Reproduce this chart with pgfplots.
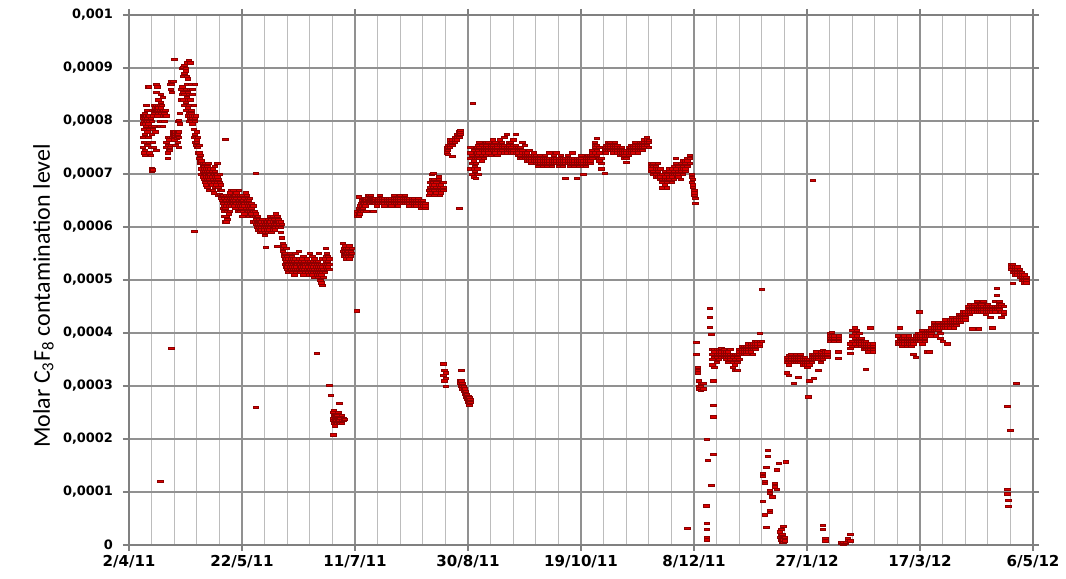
\documentclass[border=0pt]{standalone}
\usepackage{pgfplots}
\pgfplotsset{compat=1.18}
\usepackage{fontspec}
\setmainfont{DejaVu Sans}
\newfontfamily\labelfont{Carlito}

\definecolor{gridmaj}{RGB}{145,145,145}
\definecolor{gridmin}{RGB}{188,188,188}
\definecolor{axcol}{RGB}{128,128,128}
\definecolor{ptfill}{RGB}{218,0,0}
\definecolor{ptedge}{RGB}{140,0,0}

\begin{document}
\begin{tikzpicture}
% x = days since 2/4/11, y = molar fraction in units of 1e-4
\begin{axis}[
    at={(0,0)}, anchor=south west,
    scale only axis, width=678pt, height=397.5pt,
    xmin=0, xmax=400, ymin=0, ymax=10,
    clip=false,
    xtick={0,50,...,400},
    xticklabels={2/4/11,22/5/11,11/7/11,30/8/11,19/10/11,8/12/11,27/1/12,17/3/12,6/5/12},
    minor x tick num=4,
    ytick={0,1,...,10},
    yticklabels={0,{0,0001},{0,0002},{0,0003},{0,0004},{0,0005},{0,0006},{0,0007},{0,0008},{0,0009},{0,001}},
    tick align=outside,
    major tick length=4.5pt, minor tick length=0pt,
    tick style={axcol, line width=0.8pt},
    xmajorgrids, xminorgrids, ymajorgrids,
    major grid style={gridmaj, line width=0.9pt},
    minor grid style={gridmin, line width=0.8pt},
    axis line style={axcol, line width=1pt},
    xticklabel style={font=\fontsize{11.3}{13}\selectfont\bfseries},
    yticklabel style={font=\fontsize{9.7}{12}\selectfont\bfseries, xshift=-4pt},
    ylabel={Molar C\textsubscript{3}F\textsubscript{8} contamination level},
    ylabel style={at={(axis description cs:-0.0874,0.470)}, anchor=base, font=\labelfont\fontsize{18}{20}\selectfont},
]
\addplot[only marks, mark=square*, mark size=0.85pt,
    mark options={xscale=2.4, fill=ptfill, draw=ptedge, line width=0.25pt}]
coordinates {
(6,7.95)(6,8.05)(6,7.7)(6,7.5)(6,8.1)
(6.5,7.85)(6.5,8.0)(6.5,7.6)(6.5,7.4)(6.5,8.1)
(7,8.05)(7,8.1)(7,7.95)(7,7.75)(7,7.45)(7,7.35)(7,8.15)
(7.5,8.0)(7.5,7.9)(7.5,8.1)(7.5,7.6)(7.5,8.3)
(8,8.05)(8,8.0)(8,7.8)(8,7.55)(8.4,8.65)(8,8.2)
(8.5,8.1)(8.5,7.95)(8.5,7.7)(8.8,8.65)
(9,8.0)(9,8.1)(9,7.85)(9,7.4)(9,7.6)
(9.5,8.05)(9.5,7.9)(9.5,7.5)(9.5,7.35)
(10,8.0)(10,7.75)(10,7.1)(10,7.06)(10,8.2)
(10.5,8.1)(10.5,7.85)(10.5,7.08)(10.5,7.6)
(11,8.15)(11,8.2)(11,7.9)(11,8.3)(11,7.5)
(11.5,8.25)(11.5,8.2)(11.5,7.8)
(12,8.3)(12,8.2)(12,8.55)(12,8.7)(12,7.45)
(12.5,8.2)(12.5,8.25)(12.5,8.1)(12.5,8.65)
(13,8.25)(13,8.3)(13,8.2)(13,8.15)(13,8.4)
(13.7,1.2)
(13.5,8.3)(13.5,8.2)(13.5,8.0)(13.5,7.9)
(14,8.25)(14,8.15)(14,8.35)(14,8.5)
(14.5,8.3)(14.5,8.2)(14.5,8.0)
(15,8.1)(15,8.2)(15,7.9)(15,8.45)
(15.5,8.15)(15.5,8.0)
(16,8.1)(16,8.2)
(16.5,7.5)(16.5,7.6)(16.5,8.1)
(17,7.4)(17,7.55)(17,7.7)(17,7.3)
(17.5,7.45)(17.5,7.65)
(18,7.5)(18,7.7)(18,7.45)(18,8.7)
(18.6,3.72)
(18.5,7.55)(18.5,8.75)(18.5,8.6)
(19,8.7)(19,8.55)(19,7.7)
(19.5,8.75)(19.5,7.75)(19.5,7.8)
(20,9.17)(20,7.7)(20,7.75)(20,7.8)(20,7.65)
(20.5,7.75)(20.5,7.7)(20.5,7.72)(20.5,7.8)(20.5,7.55)
(21,7.75)(21,7.7)(21,7.78)(21,7.68)
(21.5,7.72)(21.5,7.76)(21.5,7.6)(21.5,8.0)
(22,7.7)(22,7.8)(22,7.5)(22,8.02)
(22.5,7.95)(22.5,8.15)
(23,8.6)(23,8.4)
(23.5,8.5)(23.5,8.65)(23.5,9.0)
(24,8.55)(24,8.4)(24,8.85)(24,9.02)
(24.5,8.5)(24.5,8.9)(24.5,9.05)(24.5,8.3)
(25,8.6)(25,8.95)(25,9.0)(25,8.35)(25,8.2)
(25.5,8.45)(25.5,8.7)(25.5,8.85)(25.5,9.1)
(26,8.4)(26,8.55)(26,8.8)(26,8.1)(26,8.25)
(26.5,8.5)(26.5,8.3)(26.5,8.0)(26.5,8.15)(26.5,9.15)
(27,8.4)(27,8.1)(27,8.05)(27,8.6)(27,9.1)
(27.5,8.2)(27.5,8.0)(27.5,8.15)(27.5,8.7)
(28,8.1)(28,8.05)(28,7.95)(28,8.5)(28,8.6)
(28.5,8.1)(28.5,7.7)(28.5,7.85)(28.5,8.3)
(28.8,5.92)
(29,8.0)(29,7.6)(29,7.75)(29,8.05)(29,8.7)
(29.5,7.7)(29.5,7.55)(29.5,8.1)
(30,7.65)(30,7.6)(30,7.5)(30,7.8)
(30.5,7.5)(30.5,7.4)(30.5,7.7)
(31,7.4)(31,7.3)(31,7.55)
(31.5,7.35)(31.5,7.2)(31.5,7.25)
(32,7.2)(32,7.1)(32,7.25)(32,7.0)
(32.5,7.15)(32.5,7.05)(32.5,6.95)(32.5,7.2)
(33,7.1)(33,7.0)(33,7.15)(33,6.9)
(33.5,7.2)(33.5,7.05)(33.5,6.85)(33.5,7.0)
(34,7.1)(34,6.95)(34,7.0)(34,6.8)
(34.5,7.05)(34.5,7.15)(34.5,6.9)(34.5,6.75)
(35,7.0)(35,7.1)(35,6.95)(35,7.2)
(35.5,6.9)(35.5,7.05)(35.5,7.0)(35.5,6.7)
(36,7.0)(36,6.85)(36,7.1)(36,6.95)
(36.5,6.95)(36.5,7.05)(36.5,6.8)
(37,7.0)(37,6.9)(37,7.1)(37,6.7)
(37.5,6.85)(37.5,7.0)(37.5,6.65)
(38,6.95)(38,7.05)(38,6.75)(38,7.15)
(38.5,7.0)(38.5,6.9)(38.5,6.8)
(39,6.95)(39,6.85)(39,7.0)(39,7.2)
(39.5,6.9)(39.5,6.75)(39.5,6.6)
(40,7.0)(40,6.85)(40,6.7)(40,6.62)
(40.5,6.8)(40.5,6.7)(40.5,6.55)
(41,6.7)(41,6.6)(41,6.5)
(41.5,6.6)(41.5,6.45)(41.5,6.35)
(42,6.55)(42,6.4)(42,6.3)(42,6.2)
(42.5,7.66)(42.5,6.5)(42.5,6.35)(42.5,6.1)
(43,6.5)(43,6.4)(43,6.6)(43,6.2)(43,6.1)
(43.5,6.45)(43.5,6.55)(43.5,6.3)(43.5,6.15)
(44,6.5)(44,6.6)(44,6.4)(44,6.25)
(44.5,6.55)(44.5,6.45)(44.5,6.65)(44.5,6.3)
(45,6.5)(45,6.6)(45,6.4)(45,6.7)
(45.5,6.5)(45.5,6.55)(45.5,6.45)
(46,6.6)(46,6.5)(46,6.45)(46,6.7)
(46.5,6.55)(46.5,6.4)(46.5,6.6)
(47,6.5)(47,6.6)(47,6.45)(47,6.35)
(47.5,6.45)(47.5,6.55)(47.5,6.65)
(48,6.5)(48,6.4)(48,6.6)(48,6.3)
(48.5,6.5)(48.5,6.45)(48.5,6.7)
(49,6.55)(49,6.4)(49,6.6)(49,6.3)
(49.5,6.5)(49.5,6.45)(49.5,6.35)
(50,6.6)(50,6.4)(50,6.5)(50,6.2)
(50.5,6.45)(50.5,6.5)(50.5,6.3)
(51,6.55)(51,6.45)(51,6.4)(51,6.25)
(51.5,6.5)(51.5,6.35)(51.5,6.65)
(52,6.45)(52,6.6)(52,6.3)(52,6.5)
(52.5,6.4)(52.5,6.55)(52.5,6.3)
(53,6.5)(53,6.45)(53,6.35)(53,6.2)
(53.5,6.4)(53.5,6.3)(53.5,6.55)
(54,6.35)(54,6.45)(54,6.25)
(54.5,6.4)(54.5,6.3)(54.5,6.2)
(55,6.3)(55,6.2)(55,6.1)(55,6.4)
(55.5,6.2)(55.5,6.1)(55.5,6.3)
(56,7.02)(56,2.6)(56,6.15)(56,6.05)(56,6.25)
(56.5,6.1)(56.5,6.0)(56.5,6.2)
(57,6.1)(57,6.05)(57,5.95)(57,6.2)
(57.5,6.0)(57.5,6.1)(57.5,6.15)
(58,6.05)(58,5.95)(58,6.1)(58,5.9)
(58.5,6.0)(58.5,6.1)(58.5,5.95)
(59,6.05)(59,5.9)(59,6.15)
(59.5,6.0)(59.5,5.95)(59.5,6.1)
(60,6.05)(60,5.9)(60,5.85)
(60.5,5.62)(60.5,6.0)(60.5,6.1)
(61,6.05)(61,5.95)(61,6.1)
(61.5,6.0)(61.5,6.15)(61.5,5.9)
(62,6.05)(62,6.1)(62,5.95)
(62.5,6.1)(62.5,6.0)(62.5,6.2)
(63,6.15)(63,6.05)(63,5.9)
(63.5,6.1)(63.5,6.0)(63.5,6.2)(63.5,5.95)
(64,6.05)(64,6.15)(64,6.0)
(64.5,6.1)(64.5,6.0)(64.5,5.95)
(65,6.05)(65,6.1)(65,6.25)
(65.5,6.2)(65.5,6.1)(65.5,5.64)
(66,6.1)(66,6.0)(66,6.15)
(66.5,6.05)(66.5,6.1)
(67,6.0)(67,6.1)(67,5.9)
(67.5,5.8)(67.5,6.05)
(68,5.7)(68,5.6)(68,5.55)
(68.5,5.5)(68.5,5.45)(68.5,5.65)
(69,5.4)(69,5.3)(69,5.5)
(69.5,5.35)(69.5,5.25)(69.5,5.4)(69.5,5.6)
(70,5.3)(70,5.2)(70,5.45)(70,5.25)
(70.5,5.3)(70.5,5.4)(70.5,5.15)
(71,5.25)(71,5.35)(71,5.2)(71,5.5)
(71.5,5.3)(71.5,5.2)(71.5,5.4)
(72,5.25)(72,5.35)(72,5.15)(72,5.45)
(72.5,5.3)(72.5,5.2)(72.5,5.4)
(73,5.25)(73,5.35)(73,5.1)
(73.5,5.3)(73.5,5.2)(73.5,5.4)(73.5,5.5)
(74,5.25)(74,5.3)(74,5.15)
(74.5,5.35)(74.5,5.2)(74.5,5.3)
(75,5.3)(75,5.4)(75,5.2)(75,5.55)
(75.5,5.25)(75.5,5.3)(75.5,5.15)
(76,5.35)(76,5.25)(76,5.2)
(76.5,5.3)(76.5,5.2)(76.5,5.4)
(77,5.25)(77,5.3)(77,5.1)(77,5.45)
(77.5,5.35)(77.5,5.2)(77.5,5.3)
(78,5.25)(78,5.15)(78,5.3)
(78.5,5.3)(78.5,5.2)(78.5,5.4)
(79,5.25)(79,5.35)(79,5.15)
(79.5,5.3)(79.5,5.2)(79.5,5.1)
(80,5.2)(80,5.3)(80,5.35)(80,5.5)
(80.5,5.25)(80.5,5.15)(80.5,5.3)
(81,5.3)(81,5.2)(81,5.1)(81,5.45)
(81.5,5.25)(81.5,5.35)(81.5,5.15)
(82,5.2)(82,5.3)(82,5.05)(82,5.4)
(82.5,5.25)(82.5,5.15)(82.5,5.35)
(83,5.2)(83,5.3)(83,5.1)(83,3.62)
(83.5,5.25)(83.5,5.15)(83.5,5.35)(83.5,5.05)
(84,5.2)(84,5.3)(84,5.1)(84,5.5)
(84.5,5.25)(84.5,5.15)(84.5,5.0)
(85,5.2)(85,5.1)(85,5.3)(85,4.95)
(85.5,5.25)(85.5,5.15)(85.5,4.9)(85.5,5.4)
(86,5.2)(86,5.3)(86,5.05)
(86.5,5.3)(86.5,5.15)(86.5,5.4)
(87,5.25)(87,5.35)(87,5.45)(87,5.6)
(87.5,5.3)(87.5,5.2)(87.5,5.5)
(88,5.35)(88,5.25)(88,5.45)
(88.5,5.3)(88.5,5.4)(88.5,5.2)
(88.5,3.02)(89.3,2.83)(90.3,2.08)
(90,2.5)(90,2.4)(90,2.35)
(90.5,2.3)(90.5,2.45)(90.5,2.55)
(91,2.4)(91,2.35)(91,2.45)(91,2.25)
(91.5,2.35)(91.5,2.42)(91.5,2.3)
(92,2.4)(92,2.3)(92,2.45)
(92.5,2.35)(92.5,2.4)(92.5,2.5)
(93,2.68)(93,2.4)(93,2.3)(93,2.35)
(93.5,2.4)(93.5,2.3)
(94,2.35)(94,2.45)(94,2.3)
(95,2.4)(95,2.35)(95.5,2.38)
(94.5,5.7)(94.5,5.55)
(95,5.6)(95,5.45)(95,5.5)
(95.5,5.55)(95.5,5.5)(95.5,5.65)
(96,5.5)(96,5.45)(96,5.6)(96,5.4)
(96.5,5.55)(96.5,5.5)
(97,5.45)(97,5.55)(97,5.6)
(97.5,5.5)(97.5,5.4)(97.5,5.65)
(98,5.55)(98,5.5)(98,5.45)
(98.5,5.5)(98.5,5.6)
(100.8,4.42)
(101,6.2)(101,6.3)(101,6.25)
(101.5,6.25)(101.5,6.35)(101.5,6.2)(101.5,6.57)
(102,6.3)(102,6.4)(102,6.25)
(102.5,6.35)(102.5,6.3)(102.5,6.45)
(103,6.4)(103,6.35)(103,6.5)
(103.5,6.45)(103.5,6.35)(103.5,6.3)
(104,6.45)(104,6.5)(104,6.4)
(104.5,6.5)(104.5,6.4)(104.5,6.55)
(105,6.5)(105,6.45)(105,6.55)(105,6.3)
(105.5,6.55)(105.5,6.5)(105.5,6.6)
(106,6.5)(106,6.45)(106,6.6)
(106.5,6.55)(106.5,6.5)(106.5,6.45)
(107,6.5)(107,6.55)(107,6.6)
(107.5,6.5)(107.5,6.45)(107.5,6.55)
(108,6.5)(108,6.55)(108,6.45)(108,6.3)
(108.5,6.5)(108.5,6.45)(108.5,6.55)
(109,6.5)(109,6.55)(109,6.45)
(109.5,6.5)(109.5,6.45)(109.5,6.4)
(110,6.5)(110,6.55)(110,6.45)
(111,6.5)(111,6.45)(111,6.55)(111,6.6)
(112,6.5)(112,6.45)(112,6.55)
(113,6.5)(113,6.45)(113,6.4)(113,6.55)
(114,6.5)(114,6.55)(114,6.45)
(115,6.45)(115,6.5)(115,6.55)
(116,6.5)(116,6.45)(116,6.4)(116,6.55)
(117,6.5)(117,6.45)(117,6.55)(117,6.6)
(118,6.45)(118,6.5)(118,6.55)
(119,6.5)(119,6.45)(119,6.55)(119,6.4)
(120,6.5)(120,6.55)(120,6.45)(120,6.6)
(121,6.5)(121,6.45)(121,6.55)
(122,6.5)(122,6.55)(122,6.45)(122,6.6)
(123,6.5)(123,6.45)(123,6.55)
(124,6.5)(124,6.45)(124,6.4)(124,6.55)
(125,6.5)(125,6.45)(125,6.55)
(126,6.5)(126,6.45)(126,6.4)(126,6.55)
(127,6.45)(127,6.5)(127,6.4)
(128,6.5)(128,6.45)(128,6.55)
(129,6.45)(129,6.5)(129,6.4)(129,6.35)
(130,6.5)(130,6.45)(130,6.4)
(131,6.45)(131,6.4)(131,6.35)
(132.5,6.7)(132.5,6.6)
(133,6.75)(133,6.85)(133,6.65)
(134,6.8)(134,6.9)(134,6.7)(134,7.0)
(134.5,7.02)(134.5,6.85)(134.5,6.75)
(135,6.8)(135,6.7)(135,6.6)(135,6.9)
(136,6.75)(136,6.85)(136,6.65)
(137,6.8)(137,6.7)(137,6.9)(137,6.95)
(137.5,6.75)(137.5,6.6)
(138,6.8)(138,6.7)(138,6.65)
(139,6.75)(139,6.85)(139,6.7)
(139,3.42)(139,3.2)(139.5,3.3)(139.5,3.1)
(140,3.15)(140,3.0)(140,3.25)
(140.5,7.4)(140.5,7.45)(140.5,7.5)
(141,7.5)(141,7.45)(141,7.55)(141,7.38)
(142,7.55)(142,7.6)(142,7.5)(142,7.65)
(143,7.6)(143,7.65)(143,7.55)(143,7.34)
(144,7.65)(144,7.7)(144,7.6)
(145,7.7)(145,7.65)(145,7.75)
(146,7.75)(146,7.7)(146,7.8)(146,6.36)
(146.5,7.8)(146.5,7.75)(146.5,7.83)
(146.5,3.1)(146.5,3.05)
(147,3.3)(147,3.0)(147,3.1)
(147.5,3.0)(147.5,2.95)(147.5,3.05)
(148,2.95)(148,2.9)(148,3.0)
(148.5,2.9)(148.5,2.85)(148.5,2.95)
(149,2.85)(149,2.8)(149,2.9)
(149.5,2.8)(149.5,2.75)(149.5,2.85)
(150,2.75)(150,2.7)(150,2.8)
(150.5,2.72)(150.5,2.64)(150.5,2.78)
(151,2.75)(151,2.7)
(152,8.34)
(151,7.3)(151,7.4)(151,7.1)(151,7.5)
(151.5,7.2)(151.5,7.0)(151.5,7.35)
(152.5,7.25)(152.5,7.1)(152.5,6.95)(152.5,7.45)
(153,7.15)(153,7.05)(153,7.3)
(153.5,7.2)(153.5,6.92)(153.5,7.4)
(154,7.3)(154,7.4)(154,7.5)(154,7.1)
(154.5,7.45)(154.5,7.35)(154.5,7.55)(154.5,7.0)
(155,7.5)(155,7.4)(155,7.3)(155,7.6)
(156,7.45)(156,7.35)(156,7.25)(156,7.55)
(157,7.5)(157,7.4)(157,7.45)(157,7.3)
(158,7.5)(158,7.45)(158,7.55)(158,7.6)(158,7.35)
(159,7.5)(159,7.4)(159,7.6)(159,7.45)
(160,7.5)(160,7.45)(160,7.55)(160,7.35)
(161,7.45)(161,7.55)(161,7.5)(161,7.65)
(162,7.45)(162,7.5)(162,7.4)(162,7.6)
(163,7.5)(163,7.45)(163,7.55)(163,7.35)
(164,7.45)(164,7.55)(164,7.65)(164,7.4)
(165,7.5)(165,7.45)(165,7.6)(165,7.55)
(166,7.5)(166,7.4)(166,7.55)(166,7.7)
(167,7.45)(167,7.5)(167,7.4)(167,7.75)
(168,7.5)(168,7.45)(168,7.55)(168,7.6)
(169,7.5)(169,7.45)(169,7.6)(169,7.4)
(170,7.55)(170,7.45)(170,7.4)(170,7.65)
(171,7.5)(171,7.4)(171,7.55)(171,7.75)
(172,7.45)(172,7.4)(172,7.5)(172,7.35)
(173,7.45)(173,7.35)(173,7.5)(173,7.3)
(174,7.4)(174,7.3)(174,7.45)(174,7.6)
(175,7.35)(175,7.4)(175,7.3)(175,7.55)
(176,7.35)(176,7.3)(176,7.4)(176,7.25)
(177,7.3)(177,7.35)(177,7.25)(177,7.45)
(178,7.3)(178,7.25)(178,7.35)(178,7.2)
(179,7.3)(179,7.25)(179,7.35)(179,7.4)
(180,7.25)(180,7.3)(180,7.2)(180,7.35)
(181,7.25)(181,7.3)(181,7.2)(181,7.15)
(182,7.25)(182,7.2)(182,7.3)(182,7.35)
(183,7.25)(183,7.2)(183,7.3)(183,7.15)
(184,7.25)(184,7.3)(184,7.2)(184,7.35)
(185,7.25)(185,7.2)(185,7.3)(185,7.15)
(186,7.25)(186,7.3)(186,7.2)(186,7.4)
(187,7.25)(187,7.2)(187,7.3)(187,7.15)
(188,7.3)(188,7.25)(188,7.2)(188,7.35)
(189,7.25)(189,7.3)(189,7.2)(189,7.4)
(190,7.25)(190,7.2)(190,7.3)(190,7.15)
(191,7.25)(191,7.3)(191,7.2)(191,7.35)
(192,7.2)(192,7.25)(192,7.3)(192,7.15)
(193,7.25)(193,7.2)(193,7.3)(193,6.92)
(194,7.25)(194,7.3)(194,7.2)(194,7.35)
(195,7.25)(195,7.2)(195,7.15)(195,7.3)
(196,7.25)(196,7.3)(196,7.2)(196,7.4)
(197,7.2)(197,7.25)(197,7.15)(197,7.3)
(198,7.25)(198,7.2)(198,7.3)(198,6.92)
(199,7.2)(199,7.25)(199,7.15)(199,7.3)
(200,7.25)(200,7.2)(200,7.3)(200,7.35)
(201,7.2)(201,7.25)(201,7.15)(201,7.0)
(202,7.25)(202,7.2)(202,7.3)(202,7.15)
(203,7.25)(203,7.3)(203,7.2)(203,7.35)
(204,7.3)(204,7.25)(204,7.35)(204,7.2)
(205,7.35)(205,7.4)(205,7.3)(205,7.45)
(206,7.5)(206,7.6)(206,7.4)(206,7.55)
(207,7.68)(207,7.55)(207,7.45)(207,7.35)
(208,7.4)(208,7.3)(208,7.25)(208,7.5)
(209,7.3)(209,7.2)(209,7.1)
(210.5,7.02)(210.5,7.45)(210.5,7.5)
(211,7.5)(211,7.45)(211,7.55)(211,7.4)
(212,7.5)(212,7.55)(212,7.45)(212,7.6)
(213,7.5)(213,7.55)(213,7.45)(213,7.6)
(214,7.5)(214,7.55)(214,7.45)(214,7.4)
(215,7.5)(215,7.45)(215,7.55)(215,7.6)
(216,7.5)(216,7.45)(216,7.4)(216,7.55)
(217,7.45)(217,7.4)(217,7.5)(217,7.35)
(218,7.45)(218,7.4)(218,7.35)(218,7.5)
(219,7.4)(219,7.35)(219,7.3)(219,7.45)
(220,7.4)(220,7.3)(220,7.22)(220,7.45)
(221,7.45)(221,7.4)(221,7.35)(221,7.5)
(222,7.45)(222,7.5)(222,7.4)(222,7.55)
(223,7.5)(223,7.45)(223,7.55)(223,7.4)
(224,7.5)(224,7.55)(224,7.45)(224,7.6)
(225,7.5)(225,7.45)(225,7.55)(225,7.4)
(226,7.5)(226,7.55)(226,7.45)(226,7.6)
(227,7.55)(227,7.5)(227,7.6)(227,7.45)
(228,7.55)(228,7.6)(228,7.5)(228,7.65)
(229,7.6)(229,7.55)(229,7.65)(229,7.7)
(230,7.6)(230,7.64)(230,7.5)
(231,7.2)(231,7.1)(231,7.05)(231,7.15)
(232,7.15)(232,7.05)(232,7.2)(232,7.0)
(233,7.1)(233,7.0)(233,7.15)(233,6.95)
(234,7.05)(234,7.1)(234,6.95)(234,7.2)
(235,7.0)(235,6.95)(235,7.1)(235,6.9)
(236,7.0)(236,6.9)(236,6.85)(236,6.74)
(237,6.95)(237,6.9)(237,7.05)(237,6.8)
(238,7.0)(238,6.9)(238,6.85)(238,6.74)
(239,6.95)(239,7.05)(239,6.9)(239,7.1)
(240,7.0)(240,7.1)(240,6.95)(240,6.85)
(241,7.05)(241,7.15)(241,7.0)(241,6.9)
(242,7.1)(242,7.0)(242,7.2)(242,7.3)
(243,7.05)(243,7.15)(243,7.0)(243,6.95)
(244,7.1)(244,7.2)(244,7.05)(244,6.9)
(245,7.15)(245,7.1)(245,7.0)(245,7.25)
(246,7.2)(246,7.1)(246,7.25)(246,7.05)
(247,7.25)(247,7.3)(247,7.15)(247,0.32)
(248,7.3)(248,7.35)(248,7.2)
(249,7.0)(249,6.94)(249,6.85)
(249.5,6.8)(249.5,6.75)(249.5,6.9)
(250,6.7)(250,6.65)(250,6.6)
(250.5,6.55)(250.5,6.45)
(251,3.83)(250.9,3.6)
(251.5,3.36)(251.5,3.3)(251.5,3.25)
(252,3.1)(252,3.0)(252,2.95)
(253,3.05)(253,2.92)(253,3.0)
(254,2.95)(254,3.05)
(255.3,0.74)(255.5,2.0)(255.5,0.41)(255.5,0.3)(255.5,0.15)(255.5,0.1)
(256,1.6)
(257,4.47)(257,4.3)(257,4.11)
(257.5,3.98)(257.5,1.13)
(258.5,3.1)(258.5,2.64)(258.5,2.42)(258.5,1.72)
(258,3.5)(258,3.6)(258,3.7)(258,3.4)
(259,3.65)(259,3.55)(259,3.7)(259,3.35)
(260,3.6)(260,3.7)(260,3.55)(260,3.45)
(261,3.65)(261,3.6)(261,3.7)(261,3.5)
(262,3.6)(262,3.65)(262,3.55)(262,3.72)
(263,3.6)(263,3.55)(263,3.65)(263,3.7)
(264,3.6)(264,3.65)(264,3.55)(264,3.5)
(265,3.55)(265,3.6)(265,3.65)(265,3.45)
(266,3.6)(266,3.55)(266,3.5)(266,3.7)
(267,3.55)(267,3.6)(267,3.45)(267,3.35)
(268,3.5)(268,3.6)(268,3.4)(268,3.3)
(269,3.55)(269,3.45)(269,3.3)(269,3.6)
(270,3.6)(270,3.65)(270,3.5)(270,3.7)
(271,3.65)(271,3.7)(271,3.6)(271,3.75)
(272,3.65)(272,3.7)(272,3.6)(272,3.75)
(273,3.7)(273,3.65)(273,3.75)(273,3.6)
(274,3.7)(274,3.75)(274,3.65)(274,3.8)
(275,3.7)(275,3.75)(275,3.8)(275,3.65)
(276,3.75)(276,3.7)(276,3.8)(276,3.6)
(277,3.75)(277,3.8)(277,3.7)(277,3.85)
(278,3.8)(278,3.75)(278,3.85)
(279,3.8)(279,3.85)(279,3.75)(279,4.0)
(280,4.83)(280,3.85)
(280.5,1.35)(280.5,1.3)(280.5,0.83)
(281.3,1.2)(281.3,1.17)(281.3,0.57)
(282,0.34)(282,1.47)
(282.7,1.79)(282.7,1.68)
(283.6,1.04)(283.6,0.98)(283.6,0.66)(283.6,0.62)
(284.5,0.9)(284.5,0.91)
(285.8,1.17)(285.8,1.1)
(286.5,1.06)(286.5,1.42)
(287.5,1.55)
(288,0.25)(288,0.15)
(288.5,0.2)(288.5,0.1)(288.5,0.3)
(289,0.06)(289,0.12)(289,0.2)
(289.5,0.36)(289.5,0.1)(289.5,0.05)
(290,0.15)(290,0.08)
(290.5,1.57)
(291,3.55)(291,3.45)(291,3.25)(291,3.5)
(292,3.5)(292,3.58)(292,3.2)(292,3.4)
(293,3.5)(293,3.55)(293,3.45)(293,3.6)
(294,3.55)(294,3.5)(294,3.45)(294,3.06)
(295,3.55)(295,3.5)(295,3.6)(295,3.45)
(296,3.5)(296,3.55)(296,3.45)(296,3.17)
(297,3.5)(297,3.55)(297,3.45)(297,3.6)
(298,3.5)(298,3.45)(298,3.55)(298,3.4)
(299,3.5)(299,3.45)(299,3.4)(299,3.55)
(300,3.45)(300,3.5)(300,3.4)(300,3.35)
(300.5,2.8)
(301,3.45)(301,3.4)(301,3.1)(301,3.5)
(302,3.5)(302,3.55)(302,3.45)(302,3.6)
(302.6,6.89)
(303,3.55)(303,3.5)(303,3.6)(303,3.15)
(304,3.55)(304,3.6)(304,3.5)(304,3.65)
(305,3.55)(305,3.6)(305,3.5)(305,3.3)
(306,3.6)(306,3.55)(306,3.65)(306,3.45)
(307,3.6)(307,3.55)(307,3.5)(307,3.68)
(308,3.6)(308,3.65)(308,3.55)
(309,3.6)(309,3.55)(309,3.65)
(310,3.95)(310,4.0)(310,3.9)(310,3.85)
(311,3.95)(311,4.02)(311,3.9)
(312,3.9)(312,3.85)(312,3.95)
(313.7,3.65)(313.7,3.53)
(307,0.37)(307,0.3)(308,0.13)(308,0.08)
(315,0.03)(315,0.05)(316,0.02)(316,0.04)(316,0.06)
(317,0.03)(317,0.05)(318,0.1)(318,0.13)(319,0.21)(319,0.08)
(314,3.9)(314,3.95)(314,3.85)
(319,3.72)(319,3.62)(319,3.8)
(320,3.95)(320,4.05)(320,3.85)(320,3.75)
(321,4.0)(321,4.1)(321,3.9)(321,3.8)
(322,3.95)(322,4.05)(322,3.85)(322,3.75)
(323,3.9)(323,3.85)(323,3.8)(323,4.0)
(324,3.85)(324,3.8)(324,3.9)(324,3.75)
(325,3.85)(325,3.8)(325,3.75)(325,3.7)
(326,3.8)(326,3.75)(326,3.85)(326,3.7)(326,3.32)
(327,3.8)(327,3.75)(327,3.7)(327,3.65)
(328,3.75)(328,3.8)(328,3.7)(328,4.1)
(329,3.75)(329,3.7)(329,3.8)(329,3.65)
(340,3.85)(340,3.95)(340,3.8)
(341,3.9)(341,3.85)(341,3.8)(341,4.1)
(342,3.85)(342,3.9)(342,3.8)(342,3.75)
(343,3.85)(343,3.8)(343,3.9)(343,3.95)
(344,3.8)(344,3.85)(344,3.9)(344,3.75)
(345,3.85)(345,3.9)(345,3.8)(345,3.95)
(346,3.85)(346,3.8)(346,3.9)(346,3.75)
(347,3.9)(347,3.85)(347,3.8)(347,3.6)
(348,3.9)(348,3.95)(348,3.85)(348,3.55)
(349,3.95)(349,3.9)(349,4.0)(349,3.85)
(349.6,4.4)
(350,3.9)(350,3.95)(350,4.0)(350,3.85)
(351,3.95)(351,3.9)(351,4.05)(351,3.8)
(352,3.95)(352,4.0)(352,3.9)(352,3.85)
(353,4.0)(353,3.95)(353,4.05)(353,3.65)
(354,4.0)(354,3.95)(354,4.05)(354,3.65)
(355,4.05)(355,4.1)(355,4.0)(355,3.95)
(356,4.1)(356,4.15)(356,4.05)(356,4.2)
(357,4.1)(357,4.05)(357,4.15)(357,3.95)
(358,4.1)(358,4.15)(358,4.05)(358,4.2)
(359,4.1)(359,4.15)(359,4.0)(359,3.9)
(360,4.15)(360,4.1)(360,4.2)(360,3.85)
(361,4.15)(361,4.2)(361,4.1)(361,4.25)
(362,4.15)(362,4.2)(362,4.1)(362,3.8)
(363,4.2)(363,4.15)(363,4.25)(363,4.1)
(364,4.2)(364,4.25)(364,4.15)(364,4.3)
(365,4.2)(365,4.25)(365,4.15)(365,4.1)
(366,4.25)(366,4.2)(366,4.3)(366,4.15)
(367,4.25)(367,4.3)(367,4.2)(367,4.35)
(368,4.3)(368,4.25)(368,4.35)(368,4.2)
(369,4.3)(369,4.35)(369,4.25)(369,4.4)
(370,4.35)(370,4.3)(370,4.4)(370,4.25)
(371,4.4)(371,4.35)(371,4.45)(371,4.5)
(372,4.4)(372,4.45)(372,4.35)(372,4.55)
(373,4.45)(373,4.4)(373,4.5)(373,4.08)
(374,4.45)(374,4.5)(374,4.4)(374,4.55)
(375,4.45)(375,4.4)(375,4.5)(375,4.6)
(376,4.45)(376,4.5)(376,4.4)(376,4.08)
(377,4.45)(377,4.4)(377,4.5)(377,4.55)
(378,4.45)(378,4.5)(378,4.4)(378,4.6)
(379,4.45)(379,4.4)(379,4.5)(379,4.35)
(380,4.45)(380,4.5)(380,4.4)(380,4.55)
(381,4.45)(381,4.4)(381,4.5)(381,4.3)
(382,4.45)(382,4.4)(382,4.5)(382,4.1)
(383,4.4)(383,4.45)(383,4.5)(383,4.6)
(384,4.85)(384,4.72)(384,4.5)(384,4.45)
(385,4.55)(385,4.5)(385,4.6)(385,4.45)
(386,4.5)(386,4.4)(386,4.3)(386,4.55)
(387,4.4)(387,4.5)(387,4.35)
(388.5,2.62)(388.5,1.05)(388.5,0.97)
(389,0.85)(389,0.73)
(389.8,2.17)
(392.5,3.06)
(390,5.3)(390,5.25)(390,5.2)
(391,5.25)(391,5.3)(391,5.15)(391,4.94)
(392,5.2)(392,5.25)(392,5.15)(392,5.1)
(393,5.2)(393,5.15)(393,5.1)(393,5.25)
(394,5.15)(394,5.1)(394,5.05)(394,5.2)
(395,5.1)(395,5.05)(395,5.0)(395,5.15)
(396,5.05)(396,5.0)(396,4.95)(396,5.1)
(397,5.05)(397,5.0)(397,4.95)
};
\end{axis}
\pgfresetboundingbox
\path[use as bounding box] (-96.75pt,-24.75pt) rectangle (702.75pt,408.75pt);
\end{tikzpicture}
\end{document}
